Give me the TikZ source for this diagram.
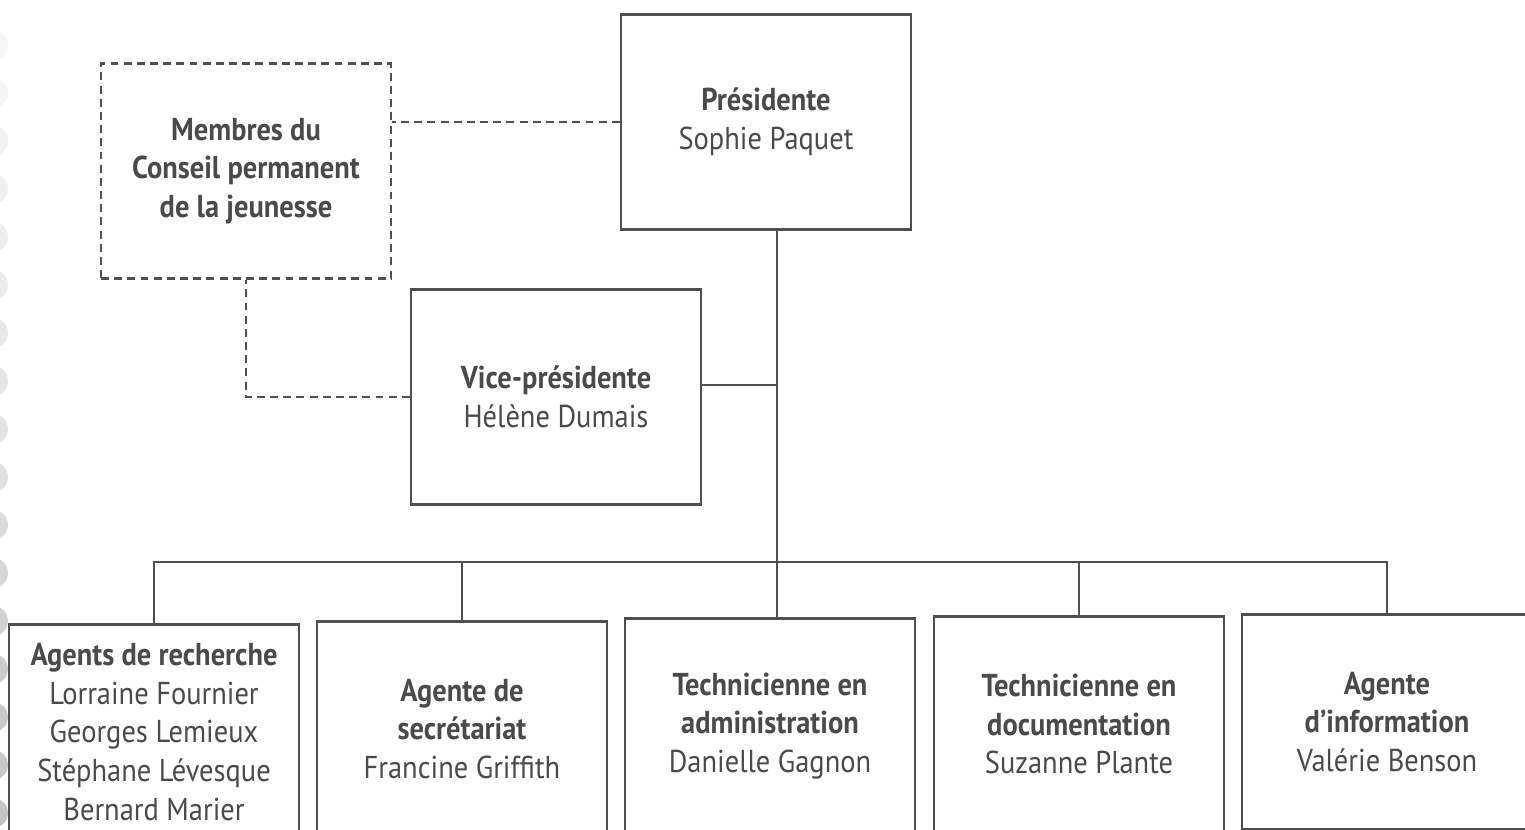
\documentclass[tikz,border=0pt]{standalone}
\usepackage{fontspec}
\setmainfont{PT Sans}[FakeStretch=0.9]
\usetikzlibrary{positioning}

\definecolor{linec}{HTML}{4F4F4F}
\definecolor{textc}{HTML}{4A4A4A}

\tikzset{
  box/.style={draw=linec, line width=1.4pt, minimum width=5.8cm, minimum height=4.3cm,
    align=center, text=textc, font=\fontsize{18}{22}\selectfont},
  dashbox/.style={box, dash pattern=on 4.5pt off 3pt},
  conn/.style={draw=linec, line width=1.4pt},
  dashconn/.style={conn, dash pattern=on 4.5pt off 3pt}
}

\begin{document}
\begin{tikzpicture}[x=0.02cm, y=-0.02cm]
    \useasboundingbox (0,0) rectangle (1525,829);
    % Binding holes on the left edge
    \foreach \y/\g in {45/6,93/8,141/10,189/12,237/14,285/16,333/18,381/20,429/22,477/24,525/28,573/32,621/36,669/40,717/42,765/44,813/46}
      \fill[gray!\g] (-7,\y) circle (0.3cm);
    % Top level
    \node[box] (pres) at (766,122) {\textbf{Présidente}\\Sophie Paquet};
    \node[dashbox] (membres) at (246,171) {\textbf{Membres du}\\\textbf{Conseil permanent}\\\textbf{de la jeunesse}};
    \node[box] (vice) at (556,397) {\textbf{Vice-présidente}\\Hélène Dumais};
    % Staff
    \node[box] (recherche) at (154,732) {\textbf{Agents de recherche}\\Lorraine Fournier\\Georges Lemieux\\Stéphane Lévesque\\Bernard Marier};
    \node[box] (secr) at (462,729) {\textbf{Agente de}\\\textbf{secrétariat}\\Francine Griffith};
    \node[box] (admin) at (770,726) {\textbf{Technicienne en}\\\textbf{administration}\\Danielle Gagnon};
    \node[box] (doc) at (1079,724) {\textbf{Technicienne en}\\\textbf{documentation}\\Suzanne Plante};
    \node[box] (info) at (1387,722) {\textbf{Agente}\\\textbf{d'information}\\Valérie Benson};
    % Lines
    \coordinate (bus) at (777,562);
    \draw[conn] (pres.south -| bus) -- (admin.north -| bus);
    \draw[conn] ([yshift=0.24cm]vice.east) -- ([yshift=0.24cm]vice.east -| bus);
    \draw[conn] (recherche.north) |- (bus) -| (info.north);
    \draw[conn] (secr.north) -- (secr.north |- bus);
    \draw[conn] (doc.north) -- (doc.north |- bus);
    % Dashed links
    \draw[dashconn] (pres.west) -- (pres.west -| membres.east);
    \draw[dashconn] (vice.west) -| (membres.south);
\end{tikzpicture}
\end{document}
